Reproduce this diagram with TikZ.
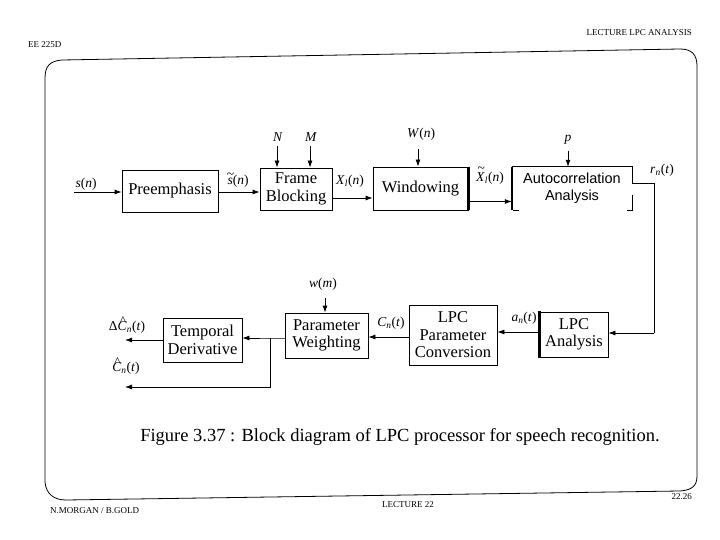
\documentclass[tikz,border=0pt]{standalone}
\usepackage{fontspec}
\setmainfont{Liberation Serif}
\newfontfamily\arialf{Liberation Sans}
\usetikzlibrary{arrows.meta,calc}
\newcommand{\vi}[1]{\textit{#1}}
\newcommand{\vsb}[1]{\textsubscript{\textit{#1}}}
\newcommand{\accon}[4]{{\ooalign{\vi{#1}\cr\hidewidth\kern#4\raisebox{#3}{#2}\hidewidth\cr}}}
\tikzset{
  blk/.style={draw, line width=0.8pt, align=center, inner sep=0pt, font=\fontsize{16.5}{17.5}\selectfont},
  arr/.style={line width=0.8pt, -{Latex[length=7pt,width=5pt]}},
  ln/.style={line width=0.8pt},
  thick bar/.style={line width=2.6pt},
  lab/.style={inner sep=0pt, font=\fontsize{13.5}{14}\selectfont},
  hdr/.style={inner sep=0pt, font=\fontsize{9}{10}\selectfont},
}
\begin{document}
\begin{tikzpicture}[x=1pt,y=-1pt]
\useasboundingbox (0,0) rectangle (720,540);
% page frame
\draw[ln] (45,78) .. controls (45,66) and (50,61) .. (62,60) -- (680,49)
  .. controls (692,49) and (697,55) .. (697,66) -- (697,476)
  .. controls (697,486) and (692,490) .. (680,491) -- (66,500)
  .. controls (54,500) and (46,494) .. (45,482) -- cycle;
\node[hdr, anchor=west] (h1) at (28,45) {EE 225D};
\node[hdr, anchor=east] (h2) at (692,33) {LECTURE LPC ANALYSIS};
\node[hdr, anchor=west] (f1) at (50,511) {N.MORGAN / B.GOLD};
\node[hdr] (f2) at (408,505) {LECTURE 22};
\node[hdr, anchor=east] (f3) at (692,497) {22.26};

% blocks
\node[blk, minimum width=96pt, minimum height=42pt] (pre) at (170,191) {Preemphasis};
\node[blk, minimum width=72pt, minimum height=42pt] (fb) at (296,189) {Frame\\Blocking};
\node[blk, minimum width=95pt, minimum height=43pt] (win) at (420.5,188.5) {Windowing};
\draw[thick bar] (win.north east) -- (win.south east);
\node[inner sep=0pt, minimum width=120pt, minimum height=43pt, align=center,
      font=\arialf\fontsize{14.5}{17}\selectfont] (ac) at (572,188.5) {Autocorrelation\\Analysis};
\draw[thick bar] (ac.north west) -- (ac.south west);
\draw[ln] ([xshift=1pt]ac.south west) -- ++(6,0);
\draw[ln] (ac.north west) -- (ac.north east) -- ([yshift=5pt]ac.east);
\draw[ln] ([yshift=-7pt]ac.east) -- (ac.south east) -- ++(-5,0);

\node[blk, minimum width=68pt, minimum height=45pt] (lpca) at (574,334.5) {LPC\\Analysis};
\draw[thick bar] ([yshift=1pt]lpca.north west) -- ([yshift=-1pt]lpca.south west);
\node[blk, minimum width=88pt, minimum height=60pt] (lpcc) at (453,335) {LPC\\Parameter\\Conversion};
\node[blk, minimum width=83pt, minimum height=45pt] (pw) at (326.5,335.5) {Parameter\\Weighting};
\node[blk, minimum width=79pt, minimum height=44pt] (td) at (202.5,340) {Temporal\\Derivative};

% labels
\node[lab] (ls) at (86,184) {\vi{s}(\vi{n})};
\node[lab] (lst) at (238,181) {\accon{s}{\textasciitilde}{0.42em}{1pt}(\vi{n})};
\node[lab] (lx) at (350,181) {\vi{X}\vsb{l}(\vi{n})};
\node[lab] (lxt) at (490,178) {\accon{X}{\textasciitilde}{0.62em}{1.5pt}\vsb{l}(\vi{n})};
\node[lab] (lr) at (662,170) {\vi{r}\vsb{n}(\vi{t})};
\node[lab] (la) at (524,318) {\vi{a}\vsb{n}(\vi{t})};
\node[lab] (lc) at (391,323) {\vi{C}\vsb{n}(\vi{t})};
\node[lab] (ldc) at (127,327) {Δ\accon{C}{\textasciicircum}{0.36em}{1.5pt}\vsb{n}(\vi{t})};
\node[lab] (lhc) at (126,368) {\accon{C}{\textasciicircum}{0.36em}{1.5pt}\vsb{n}(\vi{t})};
\node[lab] (lN) at (278,137) {\vi{N}};
\node[lab] (lM) at (311,137) {\vi{M}};
\node[lab] (lW) at (421,134) {\vi{W}(\vi{n})};
\node[lab] (lp) at (568,140) {\vi{p}};
\node[lab] (lw) at (323,284) {\vi{w}(\vi{m})};

% connectors
\coordinate (sin) at (74,192);
\draw[arr] (sin) -- (sin -| pre.west);
\draw[arr] ([yshift=-1pt]pre.east) -- ([yshift=-1pt]pre.east -| fb.west);
\draw[arr] ([yshift=-9pt]fb.east) -- ([yshift=-9pt]fb.east -| win.west);
\draw[arr] ([yshift=-13pt]win.east) -- ([yshift=-13pt]win.east -| ac.west);
\coordinate (rt) at (654,183.5);
\coordinate (rb) at (654,333);
\draw[ln] ([yshift=5pt]ac.east) -- (rt) -- (rb);
\draw[arr] (rb) -- (rb -| lpca.east);
\draw[arr] ([yshift=2.5pt]lpca.west) -- ([yshift=2.5pt]lpca.west -| lpcc.east);
\draw[arr] ([yshift=-2pt]lpcc.west) -- ([yshift=-2pt]lpcc.west -| pw.east);
\coordinate (br) at (270,338);
\draw[arr] ([yshift=-2.5pt]pw.west) -- (br) -- (br -| td.east);
\coordinate (dout) at (125,340);
\draw[arr] (td.west) -- (dout);
\coordinate (bb) at (270,387);
\coordinate (bout) at (125,387);
\draw[arr] (br) -- (bb) -- (bout);

\draw[arr] (277,146) -- (277,0 |- fb.north);
\draw[arr] (310,146) -- (310,0 |- fb.north);
\draw[arr] (418,149) -- (418,0 |- win.north);
\draw[arr] (568,151) -- (568,0 |- ac.north);
\draw[arr] (325,298) -- (325,0 |- pw.north);

% caption
\node[inner sep=0pt, font=\fontsize{18.5}{20}\selectfont] (cap) at (400,437)
  {Figure 3.37 : Block diagram of LPC processor for speech recognition.};
\end{tikzpicture}
\end{document}
